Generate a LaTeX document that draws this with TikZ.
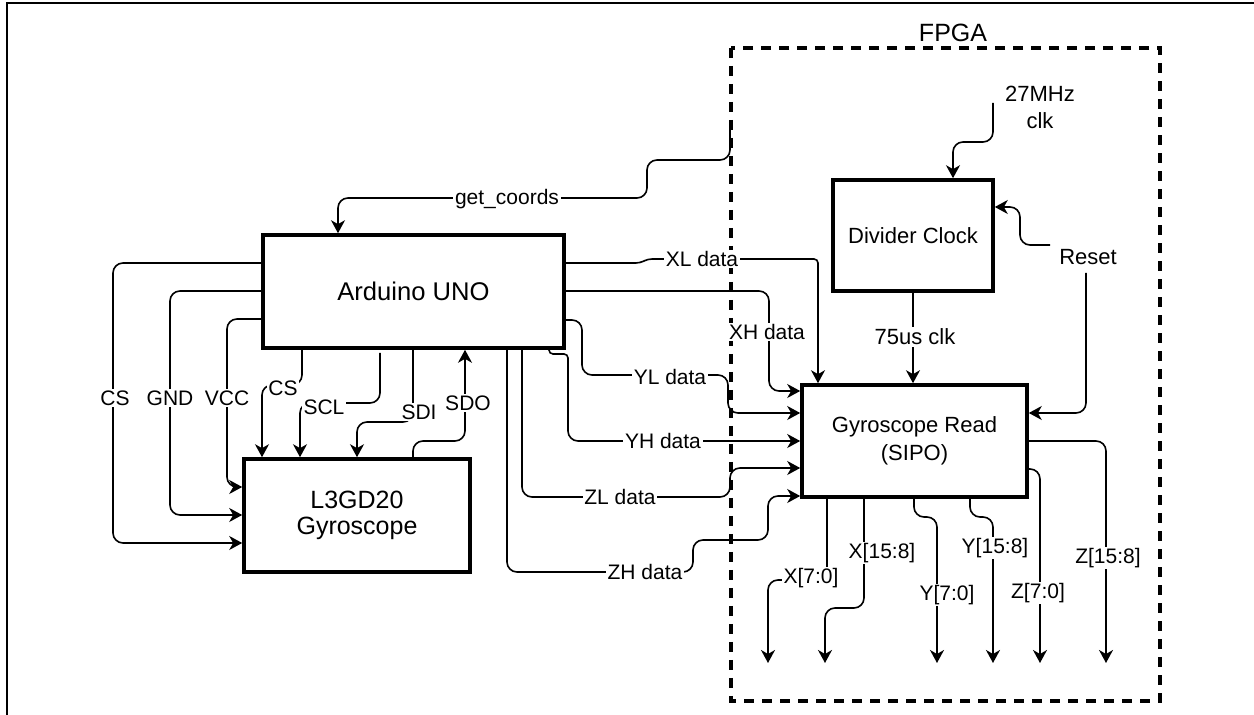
\documentclass[tikz,border=0pt]{standalone}
\usepackage{fontspec}
\setmainfont{Liberation Sans}
\usetikzlibrary{arrows.meta}
\begin{document}
\begin{tikzpicture}[x=0.5pt,y=-0.5pt,
  box/.style={draw, line width=1.8pt, rectangle, align=center, inner sep=0pt},
  wire/.style={line width=0.8pt, rounded corners=5pt},
  conn/.style={wire, -{Stealth[length=6.5pt,width=7pt,inset=2pt]}},
  lab/.style={fill=white, inner sep=0.8pt, font=\fontsize{10.5}{12}\selectfont},
  big/.style={inner sep=0.8pt, align=center, font=\fontsize{11}{13.5}\selectfont},
  fpga/.style={line width=1.6pt, dash pattern=on 5pt off 4pt}
]
\useasboundingbox (0,0) rectangle (1254,715);
% frame
\draw[line width=1pt] (7,725) -- (7,3) -- (1265,3);

% FPGA region
\draw[fpga] (731,48) rectangle (1160,701);
\node[font=\fontsize{12.5}{14}\selectfont] (fpgalab) at (953,33) {FPGA};

% blocks
\node[box, minimum width=150.5pt, minimum height=56.5pt, font=\fontsize{12.8}{15}\selectfont] (arduino) at (413.5,291.5) {Arduino UNO};
\node[box, minimum width=113pt, minimum height=56.5pt, font=\fontsize{12.5}{13}\selectfont] (l3g) at (357,515.5) {L3GD20\\Gyroscope};
\node[box, minimum width=112.5pt, minimum height=56pt, font=\fontsize{11}{14}\selectfont] (sipo) at (914.5,441) {Gyroscope Read\\(SIPO)};
\node[box, minimum width=80pt, minimum height=55.5pt, font=\fontsize{11}{13}\selectfont] (divider) at (913,235.5) {Divider Clock};

% free ends
\coordinate (gcin) at (730,127);
\coordinate (clkin) at (993,103);
\coordinate (rst1) at (1050,245);
\coordinate (rst2) at (1086,273);
\coordinate (o1) at (768,663);
\coordinate (o2) at (825,663);
\coordinate (o3) at (937,663);
\coordinate (o4) at (993,663);
\coordinate (o5) at (1040,663);
\coordinate (o6) at (1106,663);

% Arduino -> L3GD20 (left side)
\draw[conn] (arduino.west |- 0,263) -- (113,263) -- (113,543) -- (l3g.west |- 0,543);
\draw[conn] (arduino.west |- 0,291) -- (170,291) -- (170,515) -- (l3g.west |- 0,515);
\draw[conn] (arduino.west |- 0,319) -- (227,319) -- (227,487) -- (l3g.west |- 0,487);
% Arduino -> L3GD20 (bottom)
\draw[conn] (arduino.south -| 302,0) -- (302,385) -- (262,385) -- (l3g.north -| 262,0);
\draw[conn] (380,353) -- (380,403) -- (300,403) -- (l3g.north -| 300,0);
\draw[conn] (arduino.south -| 413,0) -- (413,422) -- (357,422) -- (l3g.north -| 357,0);
\draw[conn] (l3g.north -| 413,0) -- (413,441) -- (465,441) -- (arduino.south -| 465,0);

% get_coords
\draw[conn] (gcin) -- (730,160) -- (647,160) -- (647,198) -- (338,198) -- (arduino.north -| 338,0);

% data lines to SIPO
\draw[conn] (arduino.east |- 0,263) [rounded corners=2pt] -- (640,263) -- (648,259) -- (818,259) [rounded corners=5pt] -- (sipo.north -| 818,0);
\draw[conn] (arduino.east |- 0,291) -- (769,291) -- (769,391) -- (sipo.west |- 0,391);
\draw[conn] (arduino.east |- 0,320) -- (582,320) -- (582,375) -- (728,375) -- (728,413) -- (sipo.west |- 0,413);
\draw[conn] (arduino.south -| 549,0) [rounded corners=2pt] -- (549,354) -- (568,354) [rounded corners=5pt] -- (568,441) -- (sipo.west |- 0,441);
\draw[conn] (arduino.south -| 522,0) -- (522,497) -- (730,497) -- (730,468) -- (sipo.west |- 0,468);
\draw[conn] (arduino.south -| 507,0) -- (507,572) -- (693,572) -- (693,540) -- (768,540) -- (768,496) -- (sipo.west |- 0,496);

% clocks and reset
\draw[conn] (clkin) -- (993,142) -- (953,142) -- (divider.north -| 953,0);
\draw[conn] (rst1) -- (1020,245) -- (1020,207) -- (divider.east |- 0,207);
\draw[conn] (rst2) -- (1086,413) -- (sipo.east |- 0,413);
\draw[conn] (divider.south) -- (divider.south |- sipo.north);

% outputs
\draw[conn] (sipo.south -| 827,0) -- (827,580) -- (768,580) -- (o1);
\draw[conn] (sipo.south -| 864,0) -- (864,608) -- (825,608) -- (o2);
\draw[conn] (sipo.south -| 914,0) -- (914,517) -- (937,517) -- (o3);
\draw[conn] (sipo.south -| 970,0) -- (970,517) -- (993,517) -- (o4);
\draw[conn] (sipo.east |- 0,469) -- (1040,469) -- (o5);
\draw[conn] (sipo.east |- 0,441) -- (1106,441) -- (o6);

% labels
\node[lab] (lcs1) at (115,398) {CS};
\node[lab] (lgnd) at (170,398) {GND};
\node[lab] (lvcc) at (227,398) {VCC};
\node[lab] (lcs2) at (283,388) {CS};
\node[lab] (lscl) at (324,407) {SCL};
\node[lab] (lsdi) at (419,412) {SDI};
\node[lab] (lsdo) at (468,403) {SDO};
\node[lab] (lgc) at (507,199) {get\_coords};
\node[lab] (lxl) at (702,259) {XL data};
\node[lab] (lxh) at (767,332) {XH data};
\node[lab] (lyl) at (670,377) {YL data};
\node[lab] (lyh) at (663,441) {YH data};
\node[lab] (lzl) at (620,497) {ZL data};
\node[lab] (lzh) at (645,572) {ZH data};
\node[big] (lclk) at (1040,107) {27MHz\\clk};
\node[big] (lrst) at (1088,257) {Reset};
\node[big, fill=white] (l75) at (915,337) {75us clk};
\node[lab] (lx0) at (811,578) {X[7:0]};
\node[lab] (lx8) at (882,553) {X[15:8]};
\node[lab] (ly0) at (947,595) {Y[7:0]};
\node[lab] (ly8) at (995,548) {Y[15:8]};
\node[lab] (lz0) at (1038,593) {Z[7:0]};
\node[lab] (lz8) at (1108,558) {Z[15:8]};
\end{tikzpicture}
\end{document}
